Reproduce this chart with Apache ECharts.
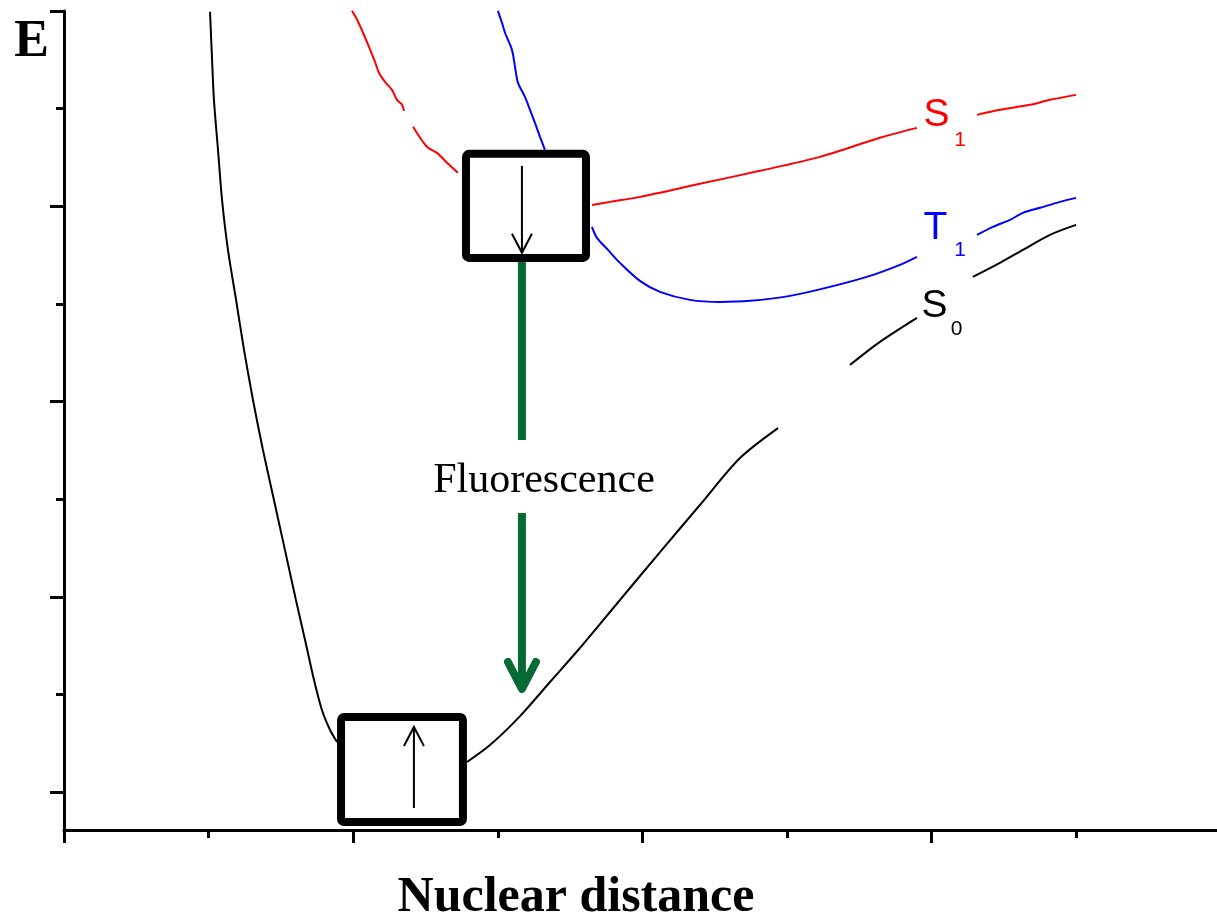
<!DOCTYPE html>
<html>
<head>
<meta charset="utf-8">
<title>Fluorescence</title>
<script src="https://cdn.jsdelivr.net/npm/echarts@6/dist/echarts.min.js"></script>
<style>
  html, body { margin: 0; padding: 0; background: #fff; }
  #chart { width: 1217px; height: 924px; }
</style>
</head>
<body>
<div id="chart"></div>
<script>
// x: nuclear distance, y: energy (1 unit = one tick step on each axis)
var xMajorTicks = [0, 2, 4, 6];
var xMinorTicks = [1, 3, 5, 7];
var yMajorTicks = [0, 2, 4, 6, 8];
var yMinorTicks = [1, 3, 5, 7];

// S0 (ground state) - black
var s0Left = [[1.010, 7.992], [1.024, 7.500], [1.037, 7.090], [1.065, 6.578], [1.093, 6.066],
  [1.134, 5.553], [1.190, 5.041], [1.245, 4.529], [1.307, 4.016], [1.376, 3.504],
  [1.452, 2.992], [1.528, 2.480], [1.604, 1.967], [1.667, 1.557], [1.729, 1.148],
  [1.784, 0.840], [1.840, 0.635], [1.888, 0.512]];
var s0Right = [[2.787, 0.307], [2.946, 0.481], [3.154, 0.778], [3.361, 1.127], [3.568, 1.475],
  [3.845, 1.967], [4.122, 2.458], [4.398, 2.940], [4.675, 3.421], [4.938, 3.728]];
var s0Mid = [[5.436, 4.375], [5.643, 4.611], [5.899, 4.857]];
var s0Tail = [[6.286, 5.277], [6.473, 5.420], [6.632, 5.553], [6.819, 5.707], [6.999, 5.809]];

// S1 (excited singlet) - red
var s1Top = [[1.992, 8.002], [2.027, 7.910], [2.068, 7.777], [2.109, 7.633], [2.151, 7.479],
  [2.178, 7.367], [2.220, 7.274], [2.268, 7.192], [2.303, 7.090], [2.338, 7.039], [2.351, 6.977]];
var s1Upper = [[2.414, 6.814], [2.510, 6.609], [2.580, 6.547], [2.649, 6.445], [2.725, 6.342]];
var s1Right = [[3.651, 6.014], [3.776, 6.045], [3.983, 6.096], [4.398, 6.230], [4.813, 6.363],
  [5.228, 6.506], [5.643, 6.701], [5.899, 6.803]];
var s1Tail = [[6.314, 6.936], [6.473, 6.988], [6.680, 7.039], [6.819, 7.090], [6.999, 7.141]];

// T1 (triplet) - blue
var t1Top = [[3.001, 8.002], [3.029, 7.879], [3.050, 7.777], [3.098, 7.602], [3.119, 7.428],
  [3.140, 7.264], [3.188, 7.121], [3.223, 6.988], [3.257, 6.855], [3.292, 6.711], [3.326, 6.578]];
var t1Right = [[3.651, 5.789], [3.686, 5.676], [3.762, 5.553], [3.845, 5.420], [3.983, 5.236],
  [4.122, 5.123], [4.329, 5.041], [4.537, 5.020], [4.744, 5.031], [5.021, 5.082],
  [5.297, 5.174], [5.574, 5.287], [5.781, 5.400], [5.899, 5.482]];
var t1Tail = [[6.314, 5.707], [6.425, 5.789], [6.542, 5.861], [6.632, 5.932], [6.750, 5.984],
  [6.888, 6.045], [6.999, 6.086]];

// boxes: [xLeft, xRight, yBottom, yTop]
var boxes = [[2.780, 3.610, 5.471, 6.537], [1.916, 2.759, -0.307, 0.768]];
// thin arrows inside boxes: [x, yFrom, yTo]
var thinArrows = [[3.167, 6.414, 5.523], [2.420, -0.164, 0.666]];
// fluorescence arrow: [x, yStart, yGapTop, yGapBottom, yTip]
var greenArrow = [[3.167, 5.430, 3.607, 2.859, 1.055]];

var chart = echarts.init(document.getElementById('chart'));

function curve(data, color) {
  return {
    type: 'line',
    data: data,
    symbol: 'none',
    silent: true,
    smooth: 0.3,
    lineStyle: { color: color, width: 2 },
    z: 2
  };
}

function renderBox(params, api) {
  var p1 = api.coord([api.value(0), api.value(3)]);
  var p2 = api.coord([api.value(1), api.value(2)]);
  return {
    type: 'rect',
    shape: { x: p1[0], y: p1[1], width: p2[0] - p1[0], height: p2[1] - p1[1], r: 3 },
    style: { fill: '#fff', stroke: '#000', lineWidth: 8 }
  };
}

function renderThinArrow(params, api) {
  var a = api.coord([api.value(0), api.value(1)]);
  var b = api.coord([api.value(0), api.value(2)]);
  var dir = b[1] > a[1] ? 1 : -1;
  return {
    type: 'group',
    children: [
      { type: 'line', shape: { x1: a[0], y1: a[1], x2: b[0], y2: b[1] }, style: { stroke: '#000', lineWidth: 2 } },
      { type: 'polyline', shape: { points: [[b[0] - 10, b[1] - dir * 19], [b[0], b[1]], [b[0] + 10, b[1] - dir * 19]] },
        style: { stroke: '#000', lineWidth: 2, fill: null } }
    ]
  };
}

function renderGreenArrow(params, api) {
  var x = api.value(0);
  var a = api.coord([x, api.value(1)]);
  var b = api.coord([x, api.value(2)]);
  var c = api.coord([x, api.value(3)]);
  var d = api.coord([x, api.value(4)]);
  var st = { stroke: '#066a35', lineWidth: 8, fill: null, lineCap: 'butt', lineJoin: 'round' };
  return {
    type: 'group',
    children: [
      { type: 'line', shape: { x1: a[0], y1: a[1], x2: b[0], y2: b[1] }, style: st },
      { type: 'line', shape: { x1: c[0], y1: c[1], x2: d[0], y2: d[1] - 2 }, style: st },
      { type: 'polyline', shape: { points: [[d[0] - 14, d[1] - 27], [d[0], d[1]], [d[0] + 14, d[1] - 27]] },
        style: { stroke: '#066a35', lineWidth: 8, fill: null, lineCap: 'round', lineJoin: 'round' } }
    ]
  };
}

var serif = '"Liberation Serif", "Times New Roman", serif';
var sans = '"Liberation Sans", Arial, sans-serif';

function label(x, y, text, size, color, weight, family) {
  return {
    type: 'text',
    x: x, y: y,
    style: {
      text: text, fill: color, font: (weight || 'normal') + ' ' + size + 'px ' + (family || sans),
      textAlign: 'center', textVerticalAlign: 'middle'
    },
    z: 100
  };
}

var yMin = -0.389, yMax = 8, xMin = 0, xMax = 7.974;

chart.setOption({
  animation: false,
  backgroundColor: '#fff',
  grid: { left: 64, right: 0, top: 11, bottom: 94 },
  xAxis: [{
    type: 'value', min: xMin, max: xMax, position: 'bottom',
    axisLine: { show: true, onZero: false, lineStyle: { color: '#000', width: 3 } },
    axisTick: { show: true, customValues: xMajorTicks, length: 13, lineStyle: { color: '#000', width: 3 } },
    axisLabel: { show: false },
    splitLine: { show: false }
  }, {
    type: 'value', min: xMin, max: xMax, position: 'bottom', offset: 0,
    axisLine: { show: false, onZero: false },
    axisTick: { show: true, customValues: xMinorTicks, length: 8, lineStyle: { color: '#000', width: 3 } },
    axisLabel: { show: false },
    splitLine: { show: false }
  }],
  yAxis: [{
    type: 'value', min: yMin, max: yMax, position: 'left',
    axisLine: { show: true, onZero: false, lineStyle: { color: '#000', width: 3 } },
    axisTick: { show: true, customValues: yMajorTicks, length: 14, lineStyle: { color: '#000', width: 3 } },
    axisLabel: { show: false },
    splitLine: { show: false }
  }, {
    type: 'value', min: yMin, max: yMax, position: 'left', offset: 0,
    axisLine: { show: false, onZero: false },
    axisTick: { show: true, customValues: yMinorTicks, length: 8, lineStyle: { color: '#000', width: 3 } },
    axisLabel: { show: false },
    splitLine: { show: false }
  }],
  series: [
    curve(s0Left, '#000'), curve(s0Right, '#000'), curve(s0Mid, '#000'), curve(s0Tail, '#000'),
    curve(s1Top, '#ff0000'), curve(s1Upper, '#ff0000'), curve(s1Right, '#ff0000'), curve(s1Tail, '#ff0000'),
    curve(t1Top, '#0000ff'), curve(t1Right, '#0000ff'), curve(t1Tail, '#0000ff'),
    { type: 'custom', data: boxes, renderItem: renderBox, silent: true, z: 5 },
    { type: 'custom', data: thinArrows, renderItem: renderThinArrow, silent: true, z: 6 },
    { type: 'custom', data: greenArrow, renderItem: renderGreenArrow, silent: true, z: 6 }
  ],
  graphic: [
    label(31.5, 43, 'E', 52, '#000', 'bold', serif),
    label(576, 898.5, 'Nuclear distance', 50, '#000', 'bold', serif),
    label(544, 481, 'Fluorescence', 42, '#000', 'normal', serif),
    label(936.5, 115, 'S', 39, '#ff0000'),
    label(960, 140.5, '1', 21, '#ff0000'),
    label(935.5, 228.5, 'T', 39, '#0000ff'),
    label(960, 250.5, '1', 21, '#0000ff'),
    label(934.5, 306.5, 'S', 39, '#000'),
    label(956.5, 329, '0', 21, '#000')
  ]
});
</script>
</body>
</html>
